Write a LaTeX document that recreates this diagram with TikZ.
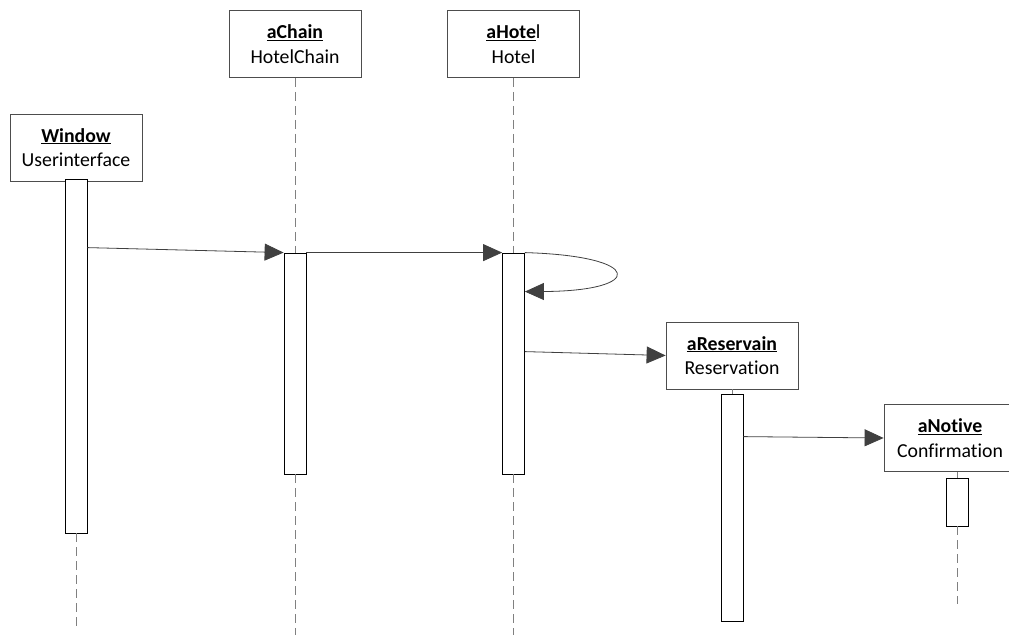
\documentclass[tikz,border=0pt]{standalone}
\usepackage{fontspec}
\setmainfont{Carlito}[Ligatures=NoCommon]
\usepackage{tikz}
\usetikzlibrary{arrows.meta,positioning,calc}
\definecolor{sqink}  {HTML}{000000}
\definecolor{sqframe}{HTML}{4D4D4D}
\definecolor{sqmsg}  {HTML}{404040}
\definecolor{sqdash} {HTML}{808080}
\tikzset{
  sqobj/.style={draw=sqframe, fill=white, thick, minimum width=132pt, minimum height=67pt,
                inner sep=0pt, align=center, font=\fontsize{19.8}{24.5}\selectfont},
  sqact/.style={draw=sqink, fill=white, thick, minimum width=22pt, inner sep=0pt},
  sqlife/.style={draw=sqdash, thick, dash pattern=on 9pt off 5pt},
  sqcall/.style={-{Triangle[length=19pt,width=17pt]}, draw=sqmsg, thick},
}

\begin{document}
\begin{tikzpicture}[x=1pt,y=-1pt]
  \useasboundingbox (0,0) rectangle (1009,635);
  % objects
  \node[sqobj] (win)   at (76,147.5)  {\underline{\textbf{Window}}\\Userinterface};
  \node[sqobj] (chain) at (295,44)    {\underline{\textbf{aChain}}\\HotelChain};
  \node[sqobj] (hotel) at (513.5,44)  {\underline{\textbf{aHote}}l\\Hotel};
  \node[sqobj] (rsv)   at (732,355.5) {\underline{\textbf{aReservain}}\\Reservation};
  \node[sqobj] (note)  at (950,438)   {\underline{\textbf{aNotive}}\\Confirmation};
  % activations
  \node[sqact,minimum height=354pt] (actWin)   at (76,356)    {};
  \node[sqact,minimum height=221pt] (actChain) at (295,363.5) {};
  \node[sqact,minimum height=221pt] (actHotel) at (513.5,363.5) {};
  \node[sqact,minimum height=227pt] (actRsv)   at (732,507.5) {};
  \node[sqact,minimum height=48pt]  (actNote)  at (957,502)   {};
  % lifeline ends
  \coordinate (endWin)   at (76,630);
  \coordinate (endChain) at (295,635);
  \coordinate (endHotel) at (513.5,635);
  \coordinate (endNote)  at (957,604);
  % lifelines
  \draw[sqlife] (chain.south) -- (actChain.north);
  \draw[sqlife] (hotel.south) -- (actHotel.north);
  \draw[sqlife] (rsv.south) -- (actRsv.north);
  \draw[sqlife] (note.south -| actNote.north) -- (actNote.north);
  \draw[sqlife] (actWin.south) -- (endWin);
  \draw[sqlife] (actChain.south) -- (endChain);
  \draw[sqlife] (actHotel.south) -- (endHotel);
  \draw[sqlife] (actNote.south) -- (endNote);
  % messages
  \draw[sqcall] ([yshift=-69pt]actWin.north east) -- (actChain.north west);
  \draw[sqcall] (actChain.north east) -- (actHotel.north west);
  \draw[sqcall] (actHotel.north east) .. controls (645,256) and (645,291)
                .. ([yshift=-39pt]actHotel.north east);
  \draw[sqcall] ([yshift=-99pt]actHotel.north east) -- (rsv.west);
  \draw[sqcall] ([yshift=-43pt]actRsv.north east) -- (note.west);
\end{tikzpicture}
\end{document}
